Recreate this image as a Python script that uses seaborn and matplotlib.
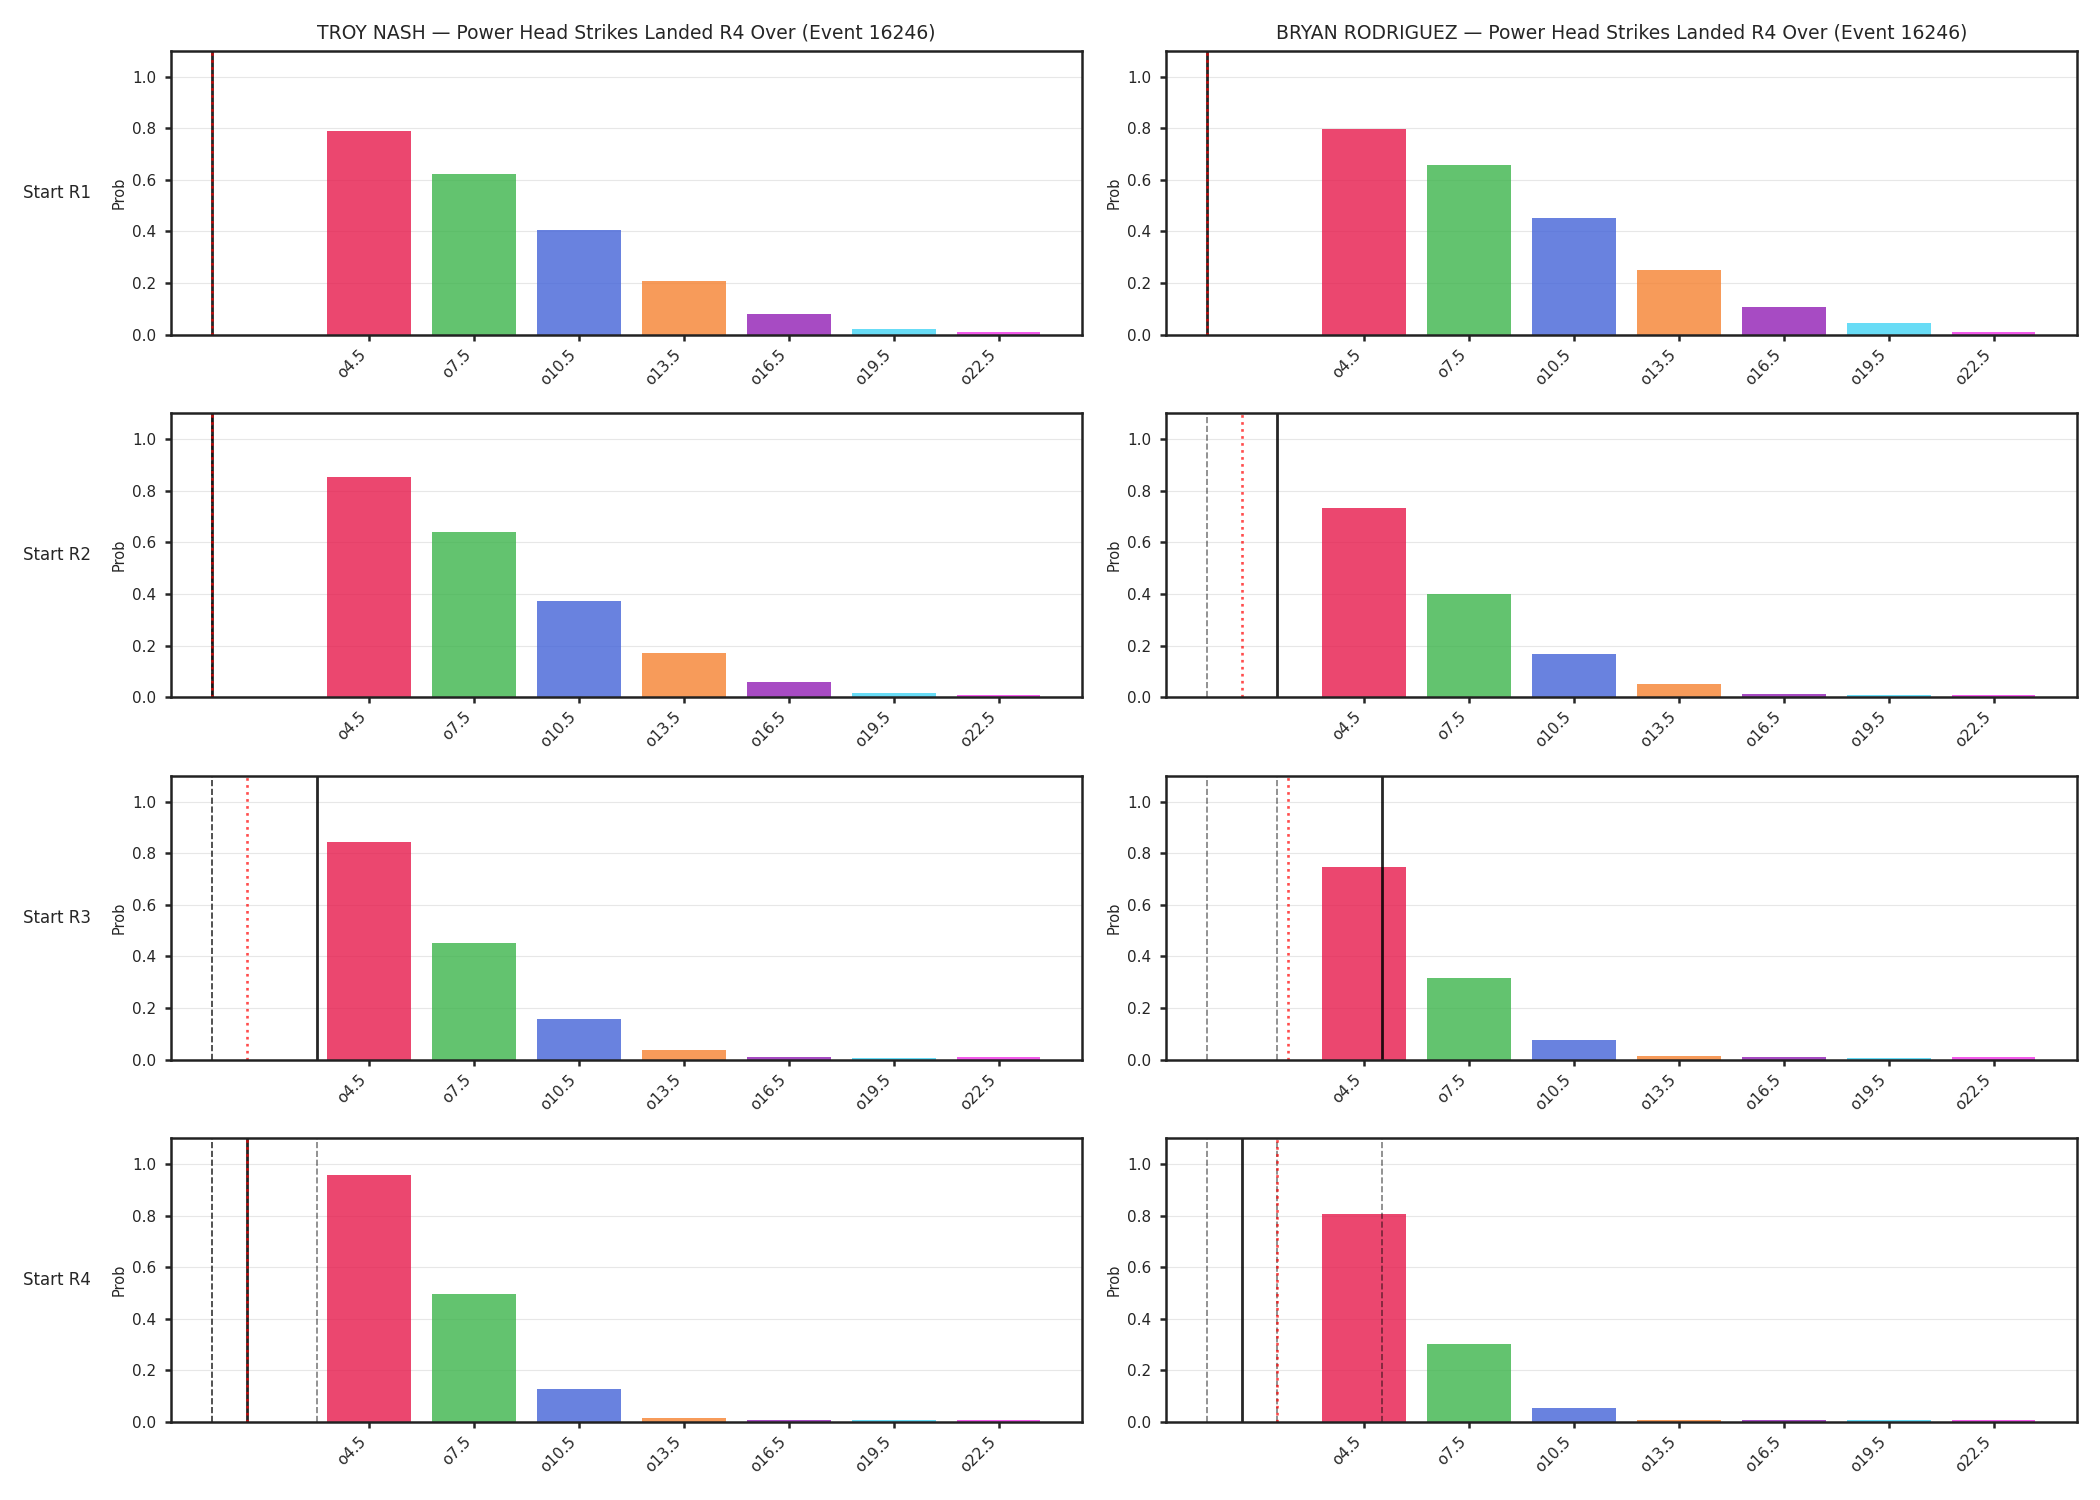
import matplotlib
matplotlib.use("Agg")
import matplotlib.pyplot as plt
import pandas as pd
import seaborn as sns

# ---------------- data ----------------
event_id = 16246
market = "Power Head Strikes Landed R4 Over"
fighters = ["TROY NASH", "BRYAN RODRIGUEZ"]
round_labels = ["Start R1", "Start R2", "Start R3", "Start R4"]
thresholds = [4.5, 7.5, 10.5, 13.5, 16.5, 19.5, 22.5]
threshold_labels = ["o4.5", "o7.5", "o10.5", "o13.5", "o16.5", "o19.5", "o22.5"]
bar_colors = ["#e6194b", "#3cb44b", "#4363d8", "#f58231", "#911eb4", "#42d4f4", "#f032e6"]

nash_r1 = [0.788, 0.622, 0.405, 0.208, 0.081, 0.022, 0.009]
nash_r2 = [0.854, 0.642, 0.371, 0.171, 0.057, 0.016, 0.008]
nash_r3 = [0.844, 0.452, 0.157, 0.037, 0.008, 0.007, 0.008]
nash_r4 = [0.959, 0.497, 0.128, 0.014, 0.008, 0.007, 0.007]

rodriguez_r1 = [0.797, 0.658, 0.453, 0.250, 0.108, 0.046, 0.012]
rodriguez_r2 = [0.733, 0.398, 0.168, 0.052, 0.011, 0.007, 0.007]
rodriguez_r3 = [0.746, 0.316, 0.076, 0.015, 0.008, 0.007, 0.008]
rodriguez_r4 = [0.806, 0.301, 0.054, 0.008, 0.007, 0.007, 0.007]

# marker lines (solid = black line, dotted = red line); dashed = previous rounds' solid
nash_solid = [0, 0, 3, 1]
nash_dotted = [0, 0, 1, 1]
rodriguez_solid = [0, 2, 5, 1]
rodriguez_dotted = [0, 1, 2.3, 2]

# ---------------- plot ----------------
sns.set_style("ticks")
plt.rcParams["font.family"] = ["DejaVu Sans"]
plt.rcParams.update({
    "axes.linewidth": 1.8,
    "axes.edgecolor": "#222222",
    "xtick.major.width": 1.8,
    "ytick.major.width": 1.8,
    "xtick.major.size": 4.3,
    "ytick.major.size": 4.3,
    "ytick.major.pad": 6.0,
    "xtick.major.pad": 4.5,
    "xtick.labelsize": 11,
    "ytick.labelsize": 11,
})

fig, axes = plt.subplots(4, 2, figsize=(21, 15), dpi=100)
fig.subplots_adjust(left=0.0813, right=0.989, top=0.966, bottom=0.052,
                    wspace=0.092, hspace=0.278)

palette = dict(zip(threshold_labels, bar_colors))
columns = [
    (fighters[0], [nash_r1, nash_r2, nash_r3, nash_r4], nash_solid, nash_dotted),
    (fighters[1], [rodriguez_r1, rodriguez_r2, rodriguez_r3, rodriguez_r4],
     rodriguez_solid, rodriguez_dotted),
]

for col, (name, probs, solid, dotted) in enumerate(columns):
    for row in range(4):
        ax = axes[row, col]
        df = pd.DataFrame({"x": thresholds, "p": probs[row], "lab": threshold_labels})
        sns.barplot(data=df, x="x", y="p", hue="lab", palette=palette,
                    saturation=1, native_scale=True, alpha=0.8,
                    linewidth=0, legend=False, ax=ax)
        for v in solid[:row]:
            ax.axvline(v, color="black", alpha=0.5, ls="--", lw=1.2)
        ax.axvline(solid[row], color="black", alpha=0.85, lw=2)
        ax.axvline(dotted[row], color="red", alpha=0.7, ls=":", lw=1.9)
        ax.set_ylim(0, 1.1)
        ax.set_xticks(thresholds)
        ax.set_xticklabels(threshold_labels, rotation=45, ha="right")
        ax.set_ylabel("Prob", fontsize=10.5)
        ax.set_xlabel("")
        ax.grid(True, axis="y", color="#b0b0b0", alpha=0.3)
        ax.set_axisbelow(True)
        if row == 0:
            ax.set_title(f"{name} \u2014 {market} (Event {event_id})",
                         fontsize=13.5, pad=9)
        if col == 0:
            ax.text(-0.162, 0.5, round_labels[row], transform=ax.transAxes,
                    ha="left", va="center", fontsize=12)

fig.savefig("out.png", dpi=100)
